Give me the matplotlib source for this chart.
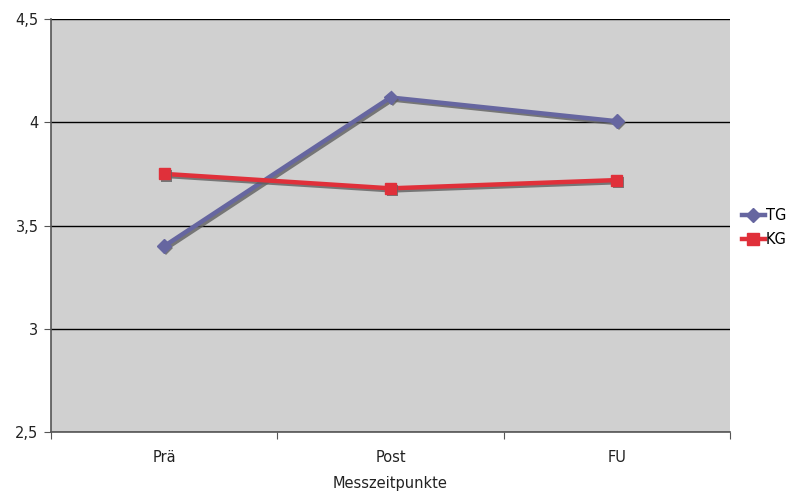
import matplotlib.pyplot as plt
import matplotlib.patheffects as pe
from matplotlib.lines import Line2D

# data
categories = ['Prä', 'Post', 'FU']
tg = [3.40, 4.12, 4.005]
kg = [3.75, 3.68, 3.72]
yticks = [2.5, 3, 3.5, 4, 4.5]
ytick_labels = ['2,5', '3', '3,5', '4', '4,5']

plt.rcParams['font.family'] = 'DejaVu Sans'

fig = plt.figure(figsize=(8.02, 4.92), dpi=100)
ax = fig.add_axes([51 / 802, 1 - 432 / 492, (730 - 51) / 802, (432 - 19) / 492])
ax.set_facecolor('#d0d0d0')

x = list(range(len(categories)))
tg_col = '#6666a0'
kg_col = '#e0303a'
line_shadow = [pe.SimpleLineShadow(offset=(1.5, -1.5), shadow_color='#606060', alpha=0.8), pe.Normal()]
mark_shadow = [pe.SimplePatchShadow(offset=(1.5, -1.5), shadow_rgbFace='#606060', alpha=0.8), pe.Normal()]

ax.plot(x, tg, color=tg_col, lw=3.2, path_effects=line_shadow, zorder=3)
ax.plot(x, kg, color=kg_col, lw=3.2, path_effects=line_shadow, zorder=3)
ax.plot(x, tg, ls='none', marker='D', ms=7, color=tg_col, mec=tg_col, path_effects=mark_shadow, zorder=4)
ax.plot(x, kg, ls='none', marker='s', ms=8, color=kg_col, mec=kg_col, path_effects=mark_shadow, zorder=4)

ax.set_xlim(-0.5, 2.5)
ax.set_ylim(2.5, 4.5)
ax.set_xticks([-0.5, 0.5, 1.5, 2.5])
ax.set_xticklabels([])
ax.set_xticks(x, minor=True)
ax.set_xticklabels(categories, minor=True, fontsize=10.5, color='#222222')
ax.tick_params(axis='x', which='minor', length=0, pad=13)
ax.tick_params(axis='x', which='major', length=5, direction='out', color='#555555')
ax.set_yticks(yticks)
ax.set_yticklabels(ytick_labels, fontsize=10.5, color='#222222')
ax.tick_params(axis='y', length=5, direction='out', color='#555555', pad=4)

ax.grid(axis='y', color='black', lw=1)
for s in ['top', 'right']:
    ax.spines[s].set_visible(False)
for s in ['left', 'bottom']:
    ax.spines[s].set_color('#555555')
    ax.spines[s].set_linewidth(1.2)

ax.set_xlabel('Messzeitpunkte', fontsize=10.5, labelpad=8, color='#222222')

handles = [Line2D([], [], color=tg_col, lw=3.2, marker='D', ms=7),
           Line2D([], [], color=kg_col, lw=3.2, marker='s', ms=8)]
ax.legend(handles, ['TG', 'KG'], loc='center left', bbox_to_anchor=(1.0, 0.495), frameon=False,
          fontsize=10.5, handlelength=1.6, handletextpad=0.05, borderaxespad=0.4, labelspacing=0.6)

fig.savefig('out.png', dpi=100)
